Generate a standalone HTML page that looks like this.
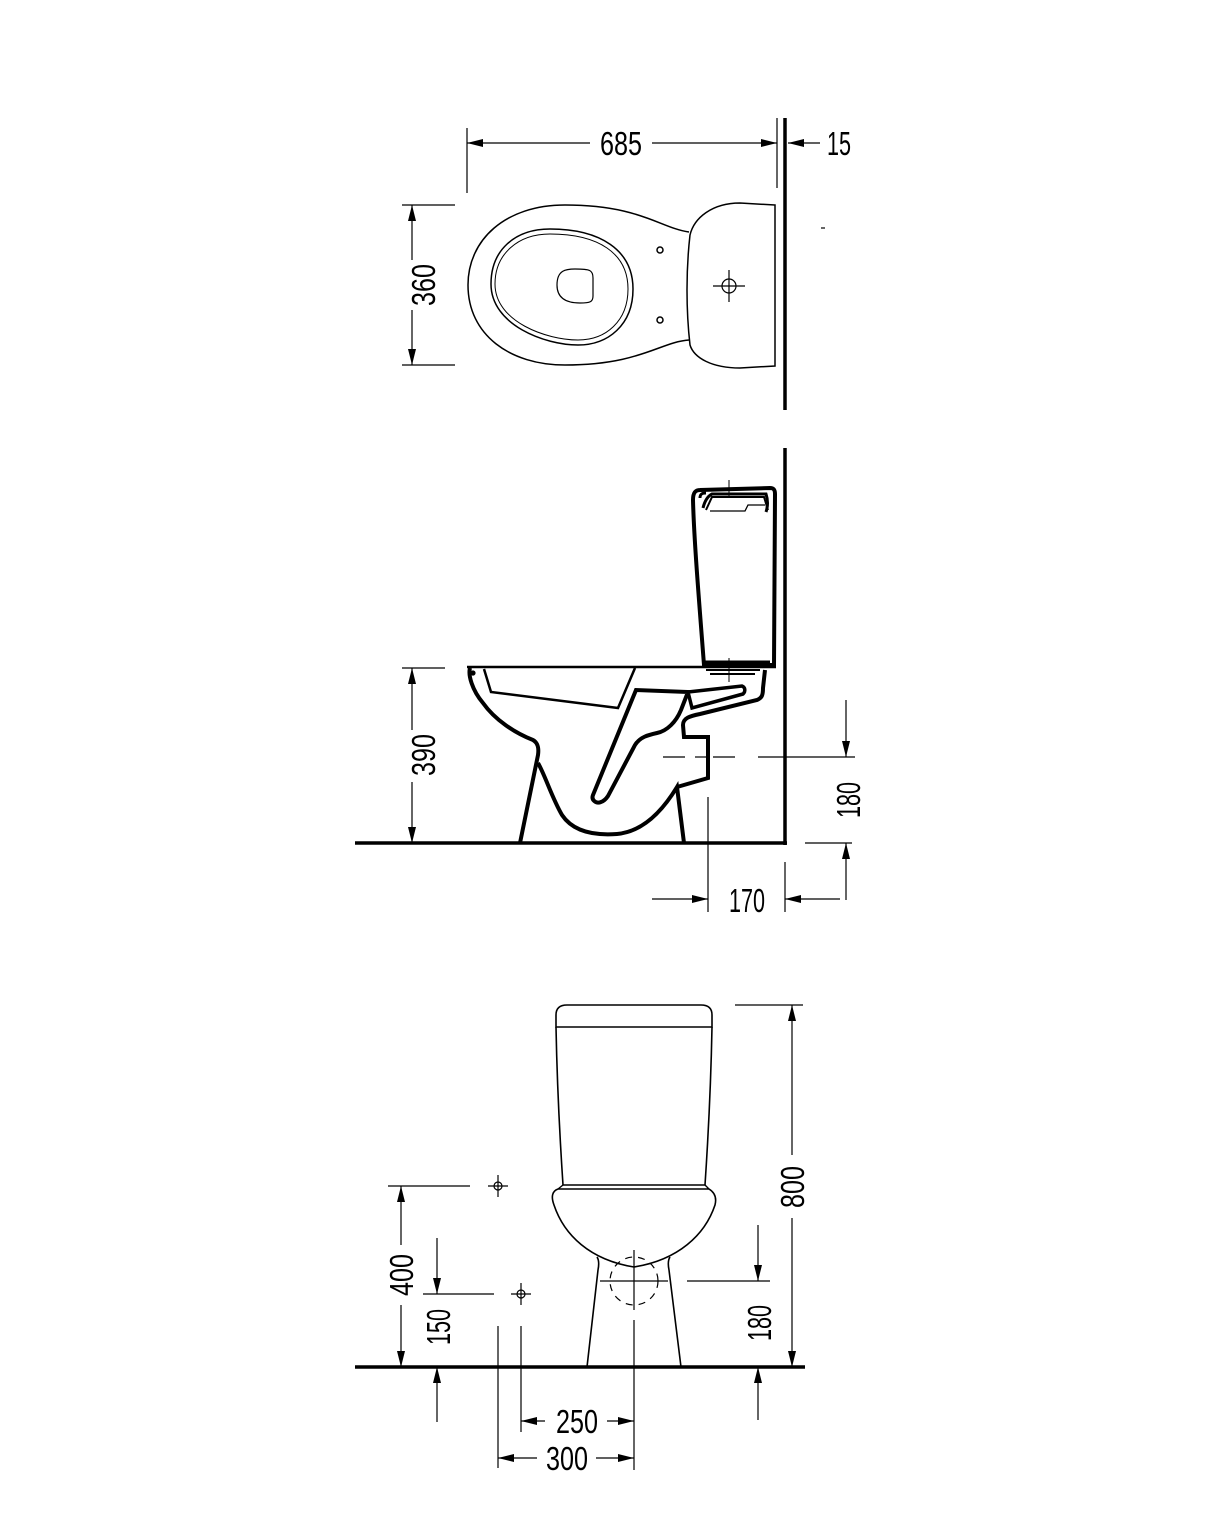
<!DOCTYPE html>
<html><head><meta charset="utf-8"><style>
html,body{margin:0;padding:0;background:#fff;}
svg{display:block;}
text{font-family:"Liberation Sans",sans-serif;font-size:33px;fill:#000;}
</style></head><body>
<svg width="1206" height="1540" viewBox="0 0 1206 1540" xmlns="http://www.w3.org/2000/svg">
<defs>
<marker id="a" viewBox="0 0 16 8" refX="16" refY="4" markerWidth="16" markerHeight="8" markerUnits="userSpaceOnUse" orient="auto">
<path d="M0,0 L16,4 L0,8 Z" fill="#000"/></marker>
</defs>
<g fill="none" stroke="#000" stroke-width="1.2">
<!-- ===== TOP VIEW ===== -->
<line x1="467" y1="128" x2="467" y2="193"/>
<line x1="777" y1="118" x2="777" y2="188"/>
<line x1="590" y1="143" x2="467" y2="143" marker-end="url(#a)"/>
<line x1="652" y1="143" x2="777" y2="143" marker-end="url(#a)"/>
<line x1="820" y1="143" x2="788" y2="143" marker-end="url(#a)"/>
<line x1="785" y1="118" x2="785" y2="410" stroke-width="3.5"/>
<line x1="402" y1="205" x2="455" y2="205"/>
<line x1="402" y1="365" x2="455" y2="365"/>
<line x1="412" y1="260" x2="412" y2="205" marker-end="url(#a)"/>
<line x1="412" y1="310" x2="412" y2="365" marker-end="url(#a)"/>
<line x1="821" y1="228" x2="825" y2="228"/>
<path d="M689,232 C660,228 640,205 565,205 C505,205 468,240 468,285 C468,335 510,365 565,365 C640,365 660,342 689,340" stroke-width="1.5"/>
<path d="M491,284 C491,250 515,229 550,229 C600,229 633,250 633,289 C633,325 608,345 578,345 C545,345 491,325 491,284 Z" stroke-width="1.5"/>
<path d="M495,284 C495,254 518,234 550,234 C598,234 628,253 628,289 C628,321 606,340 578,340 C547,340 495,322 495,284 Z" stroke-width="1"/>
<path d="M557,285 C557,270 566,269 575,269 C590,269 593,270 593,278 L593,296 C593,302 590,303 580,303 C565,303 557,297 557,285 Z" stroke-width="1.2"/>
<circle cx="660" cy="250" r="3" stroke-width="1.5"/>
<circle cx="660" cy="320" r="3" stroke-width="1.5"/>
<path d="M775,205 L740,203 C712,203 694,218 690,235 C686,270 686,310 690,345 C694,358 712,368 740,368 L775,366 Z" stroke-width="1.5"/>
<circle cx="729" cy="286" r="7"/>
<line x1="713" y1="286" x2="745" y2="286"/>
<line x1="729" y1="270" x2="729" y2="302"/>
<!-- ===== SIDE VIEW ===== -->
<line x1="785" y1="448" x2="785" y2="845" stroke-width="3.5"/>
<line x1="355" y1="843" x2="787" y2="843" stroke-width="3.5"/>
<line x1="402" y1="668" x2="445" y2="668"/>
<line x1="412" y1="730" x2="412" y2="668" marker-end="url(#a)"/>
<line x1="412" y1="782" x2="412" y2="843" marker-end="url(#a)"/>
<path d="M700,490 L770,488 C774,488 775,490 775,494 L774,665 L704,665 C699,600 694,540 693,500 C693,493 695,490 700,490 Z" stroke-width="4"/>
<path d="M700,498 C700,494 702,493 706,493 M703,508 C705,500 708,496 712,494 L766,494 C768,500 768,506 766,512" stroke-width="3"/>
<path d="M706,510 L712,497 L764,497 L768,510" stroke-width="2"/>
<path d="M710,511 L745,511 L748,505 L765,505" stroke-width="1.3"/>
<path d="M705,662 L770,662" stroke-width="3"/>
<path d="M706,670 L760,670 M710,674 L755,674" stroke-width="2"/>
<line x1="729" y1="480" x2="729" y2="497" stroke-width="1"/>
<line x1="729" y1="658" x2="729" y2="682" stroke-width="1"/>
<line x1="467" y1="667" x2="776" y2="667" stroke-width="2.5"/>
<path d="M470,668 C468,675 472,690 483,703 C495,720 515,733 533,740 C538,743 539,748 538,755 L520,843" stroke-width="4"/>
<circle cx="473" cy="673" r="2" fill="#000"/>
<path d="M484,669 L491,692 L618,708 L635,668" stroke-width="2.5"/>
<path d="M538,763 C545,775 552,798 562,815 C572,830 590,836 617,834 C640,832 660,815 677,787 L684,843" stroke-width="4"/>
<path d="M677,787 L708,778 L708,737 L684,737 L683,725 C683,718 690,716 700,714 L757,700 C762,698 763,695 763,688 L765,670" stroke-width="4"/>
<path d="M636,690 L593,795 C591,800 596,804 601,802 C604,801 606,799 608,796 L635,745 C640,737 648,735 657,733 C667,731 676,722 681,710 L688,692 Z" stroke-width="4"/>
<path d="M688,692 L742,686 C745,687 746,691 743,694 L692,708 Z" stroke-width="3.5"/>
<line x1="663" y1="757" x2="690" y2="757" stroke-dasharray="22,10" stroke-width="1.2"/>
<line x1="695" y1="757" x2="708" y2="757"/>
<line x1="713" y1="757" x2="735" y2="757"/>
<line x1="758" y1="757" x2="855" y2="757"/>
<line x1="708" y1="797" x2="708" y2="912"/>
<line x1="785" y1="862" x2="785" y2="912"/>
<line x1="652" y1="899" x2="708" y2="899" marker-end="url(#a)"/>
<line x1="840" y1="899" x2="785" y2="899" marker-end="url(#a)"/>
<line x1="846" y1="700" x2="846" y2="757" marker-end="url(#a)"/>
<line x1="846" y1="900" x2="846" y2="843" marker-end="url(#a)"/>
<line x1="805" y1="843" x2="852" y2="843"/>
<!-- ===== FRONT VIEW ===== -->
<line x1="355" y1="1367" x2="805" y2="1367" stroke-width="3.5"/>
<path d="M556,1027 L556,1015 C556,1008 560,1005 567,1005 L701,1005 C708,1005 712,1008 712,1015 L712,1027 Z" stroke-width="1.6"/>
<path d="M556,1027 C557,1080 560,1140 563,1185 L705,1185 C708,1140 711,1080 712,1027" stroke-width="1.6"/>
<path d="M563,1185 L558,1189 L709,1189 L705,1185" stroke-width="1.4"/>
<path d="M558,1189 C552,1191 551,1197 554,1205 C564,1235 590,1260 634,1267 C678,1260 705,1235 715,1205 C717,1197 714,1192 709,1189" stroke-width="1.6"/>
<path d="M597,1257 C599,1260 599,1265 598,1270 L587,1367" stroke-width="1.6"/>
<path d="M670,1257 C668,1260 668,1265 669,1270 L681,1367" stroke-width="1.6"/>
<circle cx="634" cy="1281" r="24" stroke-dasharray="7,6"/>
<line x1="634" y1="1250" x2="634" y2="1310"/>
<line x1="600" y1="1281" x2="668" y2="1281"/>
<line x1="634" y1="1320" x2="634" y2="1470"/>
<circle cx="498" cy="1186" r="4"/>
<line x1="488" y1="1186" x2="508" y2="1186"/>
<line x1="498" y1="1175" x2="498" y2="1197"/>
<circle cx="521" cy="1294" r="4"/>
<line x1="511" y1="1294" x2="531" y2="1294"/>
<line x1="521" y1="1283" x2="521" y2="1305"/>
<line x1="735" y1="1005" x2="803" y2="1005"/>
<line x1="792" y1="1155" x2="792" y2="1005" marker-end="url(#a)"/>
<line x1="792" y1="1218" x2="792" y2="1367" marker-end="url(#a)"/>
<line x1="687" y1="1281" x2="770" y2="1281"/>
<line x1="758" y1="1225" x2="758" y2="1281" marker-end="url(#a)"/>
<line x1="758" y1="1420" x2="758" y2="1367" marker-end="url(#a)"/>
<line x1="388" y1="1186" x2="470" y2="1186"/>
<line x1="401" y1="1245" x2="401" y2="1186" marker-end="url(#a)"/>
<line x1="401" y1="1305" x2="401" y2="1367" marker-end="url(#a)"/>
<line x1="423" y1="1294" x2="494" y2="1294"/>
<line x1="437" y1="1238" x2="437" y2="1294" marker-end="url(#a)"/>
<line x1="437" y1="1422" x2="437" y2="1367" marker-end="url(#a)"/>
<line x1="498" y1="1326" x2="498" y2="1468"/>
<line x1="521" y1="1326" x2="521" y2="1432"/>
<line x1="545" y1="1421" x2="521" y2="1421" marker-end="url(#a)"/>
<line x1="607" y1="1421" x2="634" y2="1421" marker-end="url(#a)"/>
<line x1="537" y1="1458" x2="498" y2="1458" marker-end="url(#a)"/>
<line x1="596" y1="1458" x2="634" y2="1458" marker-end="url(#a)"/>
</g>
<g>
<text x="600" y="155" textLength="42" lengthAdjust="spacingAndGlyphs">685</text>
<text x="827" y="155" textLength="24" lengthAdjust="spacingAndGlyphs">15</text>
<text x="729" y="912" textLength="36" lengthAdjust="spacingAndGlyphs">170</text>
<text x="556" y="1433" textLength="42" lengthAdjust="spacingAndGlyphs">250</text>
<text x="546" y="1470" textLength="42" lengthAdjust="spacingAndGlyphs">300</text>
<text transform="translate(435,285) rotate(-90)" text-anchor="middle" textLength="42" lengthAdjust="spacingAndGlyphs">360</text>
<text transform="translate(435,755) rotate(-90)" text-anchor="middle" textLength="42" lengthAdjust="spacingAndGlyphs">390</text>
<text transform="translate(860,800) rotate(-90)" text-anchor="middle" textLength="36" lengthAdjust="spacingAndGlyphs">180</text>
<text transform="translate(804,1187) rotate(-90)" text-anchor="middle" textLength="42" lengthAdjust="spacingAndGlyphs">800</text>
<text transform="translate(771,1323) rotate(-90)" text-anchor="middle" textLength="36" lengthAdjust="spacingAndGlyphs">180</text>
<text transform="translate(413,1275) rotate(-90)" text-anchor="middle" textLength="42" lengthAdjust="spacingAndGlyphs">400</text>
<text transform="translate(450,1327) rotate(-90)" text-anchor="middle" textLength="36" lengthAdjust="spacingAndGlyphs">150</text>
</g>
</svg>
</body></html>
